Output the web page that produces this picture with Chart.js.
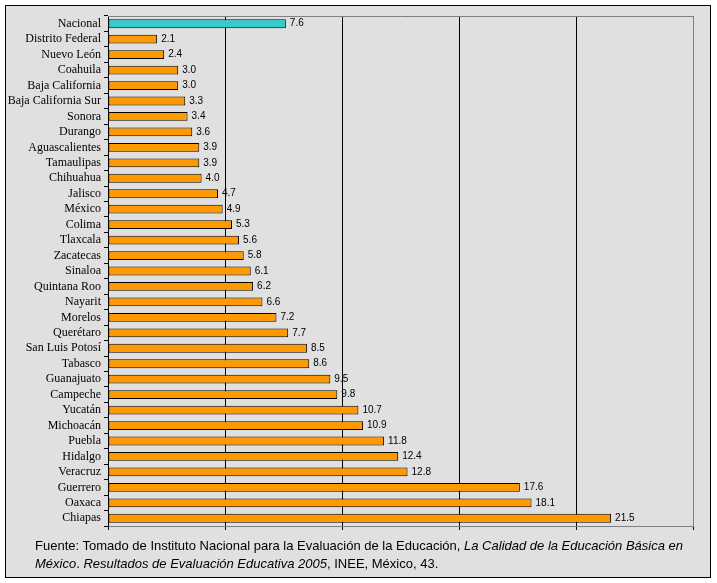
<!DOCTYPE html>
<html>
<head>
<meta charset="utf-8">
<script src="https://cdn.jsdelivr.net/npm/chart.js@4"></script>
<style>
  body { margin: 0; background: #fff; }
  #box { position: absolute; left: 5px; top: 5px; width: 704px; height: 571px; border: 1px solid #000; background: #e0e0e0; }
  #c { position: absolute; left: 0; top: 0; }
  #note { position: absolute; left: 35px; top: 537px; width: 670px; font: 13px 'Liberation Sans', Arial, sans-serif; line-height: 18px; color: #000; }
</style>
</head>
<body>
<div id="box"></div>
<canvas id="c" width="717" height="583"></canvas>
<div id="note">Fuente: Tomado de Instituto Nacional para la Evaluación de la Educación, <i>La Calidad de la Educación Básica en México</i>. <i>Resultados de Evaluación Educativa 2005</i>, INEE, México, 43.</div>
<script>
const estados = ['Nacional', 'Distrito Federal', 'Nuevo León', 'Coahuila', 'Baja California', 'Baja California Sur',
    'Sonora', 'Durango', 'Aguascalientes', 'Tamaulipas', 'Chihuahua', 'Jalisco', 'México', 'Colima', 'Tlaxcala',
    'Zacatecas', 'Sinaloa', 'Quintana Roo', 'Nayarit', 'Morelos', 'Querétaro', 'San Luis Potosí', 'Tabasco',
    'Guanajuato', 'Campeche', 'Yucatán', 'Michoacán', 'Puebla', 'Hidalgo', 'Veracruz', 'Guerrero', 'Oaxaca', 'Chiapas'];
const valores = [7.6, 2.1, 2.4, 3.0, 3.0, 3.3, 3.4, 3.6, 3.9, 3.9, 4.0, 4.7, 4.9, 5.3, 5.6, 5.8, 6.1, 6.2, 6.6, 7.2,
    7.7, 8.5, 8.6, 9.5, 9.8, 10.7, 10.9, 11.8, 12.4, 12.8, 17.6, 18.1, 21.5];
const ejeMax = 25;
const paso = 5;

const colores = estados.map(e => e === 'Nacional' ? '#33cccc' : '#ff9900');

// value labels at the end of each bar
const etiquetas = {
    id: 'etiquetas',
    afterDatasetsDraw(chart) {
        const ctx = chart.ctx;
        ctx.save();
        ctx.font = "10px 'Liberation Sans Narrow', 'Liberation Sans', Arial, sans-serif";
        ctx.fillStyle = '#000';
        ctx.textBaseline = 'middle';
        chart.getDatasetMeta(0).data.forEach((bar, i) => {
            ctx.fillText(valores[i].toFixed(1), bar.x + 4, bar.y);
        });
        ctx.restore();
    }
};

// gray frame on top of the plot area
const marco = {
    id: 'marco',
    beforeDatasetsDraw(chart) {
        const a = chart.chartArea, ctx = chart.ctx;
        ctx.save();
        ctx.strokeStyle = '#808080';
        ctx.lineWidth = 1;
        ctx.beginPath();
        ctx.moveTo(a.left, a.top + 0.5);
        ctx.lineTo(a.right, a.top + 0.5);
        ctx.stroke();
        ctx.restore();
    }
};

new Chart(document.getElementById('c'), {
    type: 'bar',
    data: {
        labels: estados,
        datasets: [{
            data: valores,
            backgroundColor: colores,
            borderColor: '#000',
            borderWidth: 1,
            borderSkipped: false,
            categoryPercentage: 1,
            barPercentage: 0.57,
        }]
    },
    options: {
        indexAxis: 'y',
        responsive: false,
        animation: false,
        layout: { padding: { top: 16, right: 24, bottom: 53, left: 0 } },
        plugins: {
            legend: { display: false },
            tooltip: { enabled: false },
        },
        scales: {
            x: {
                min: 0,
                max: ejeMax,
                ticks: { display: false, stepSize: paso },
                grid: {
                    color: c => (c.tick.value === ejeMax ? '#808080' : (c.tick.value === 0 ? 'rgba(0,0,0,0)' : '#000')),
                    tickColor: '#000',
                    tickLength: 4,
                },
                border: { color: '#808080' },
                afterFit: s => { s.height = 4; },
            },
            y: {
                ticks: {
                    color: '#000',
                    padding: 3,
                    autoSkip: false,
                    font: { family: "'Liberation Serif', 'Times New Roman', serif", size: 12 },
                },
                grid: { drawOnChartArea: false, tickLength: 4, tickColor: '#000' },
                border: { color: '#000' },
                afterFit: s => { s.width = 108; },
            },
        },
    },
    plugins: [etiquetas, marco],
});
</script>
</body>
</html>
